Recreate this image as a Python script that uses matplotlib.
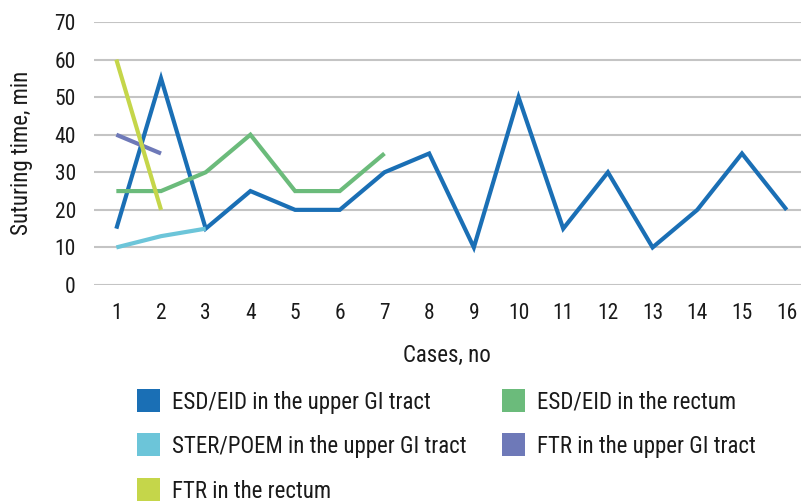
import matplotlib
matplotlib.use("Agg")
import matplotlib.pyplot as plt
from matplotlib.patches import Rectangle

cases = list(range(1, 17))
esd_upper = [15, 55, 15, 25, 20, 20, 30, 35, 10, 50, 15, 30, 10, 20, 35, 20]
esd_rectum = [25, 25, 30, 40, 25, 25, 35]
ster_poem = [10, 13, 15]
ftr_upper = [40, 35]
ftr_rectum = [60, 20]
labels = ["ESD/EID in the upper GI tract", "ESD/EID in the rectum",
          "STER/POEM in the upper GI tract", "FTR in the upper GI tract",
          "FTR in the rectum"]
colors = ["#1a6fb5", "#6bbb7b", "#6cc5d9", "#6e79b8", "#c5d64a"]

plt.rcParams['font.family'] = ['Roboto Condensed', 'Archivo Narrow', 'DejaVu Sans']

W, H = 801, 503
fig = plt.figure(figsize=(W / 100, H / 100), dpi=100)
ax = fig.add_axes([94 / W, 1 - 285 / H, (809 - 94) / W, (285 - 22) / H])

series = [esd_upper, esd_rectum, ster_poem, ftr_upper, ftr_rectum]
for vals, c in zip(series, colors):
    ax.plot(cases[:len(vals)], vals, color=c, lw=3, solid_joinstyle='miter',
            solid_capstyle='butt', zorder=3)

ax.set_xlim(0.5, 16.5)
ax.set_ylim(0, 70)
ax.set_yticks(range(0, 71, 10))
ax.set_xticks(cases)
ax.grid(axis='y', color='#c4c4c4', lw=1.5, zorder=0)
for s in ax.spines.values():
    s.set_visible(False)
ax.tick_params(length=0, labelsize=15.5, colors='#1a1a1a')
ax.tick_params(axis='y', pad=13)
ax.tick_params(axis='x', pad=13)
ax.set_ylabel("Suturing time, min", fontsize=16.5, color='#1a1a1a')
ax.set_xlabel("Cases, no", fontsize=16.5, color='#1a1a1a')
ax.yaxis.set_label_coords((22 - 94) / (809 - 94), (285 - 153) / (285 - 22))
ax.yaxis.label.set_verticalalignment('center')
ax.xaxis.set_label_coords((447 - 94) / (809 - 94), (285 - 355) / (285 - 22))
ax.xaxis.label.set_verticalalignment('center')

# legend (two columns, Excel-style square markers)
col_x = [137, 502]
row_y = [400, 444, 489]
slots = [(0, 0), (1, 0), (0, 1), (1, 1), (0, 2)]
sq = 23
for (ci, ri), lab, c in zip(slots, labels, colors):
    x0, yc = col_x[ci], row_y[ri]
    fig.patches.append(Rectangle((x0 / W, 1 - (yc + sq / 2) / H), sq / W, sq / H,
                                 transform=fig.transFigure, facecolor=c,
                                 edgecolor='none'))
    fig.text((x0 + sq + 12) / W, 1 - yc / H, lab, fontsize=16.5, color='#1a1a1a',
             va='center_baseline', ha='left')

fig.savefig("out.png", dpi=100)
